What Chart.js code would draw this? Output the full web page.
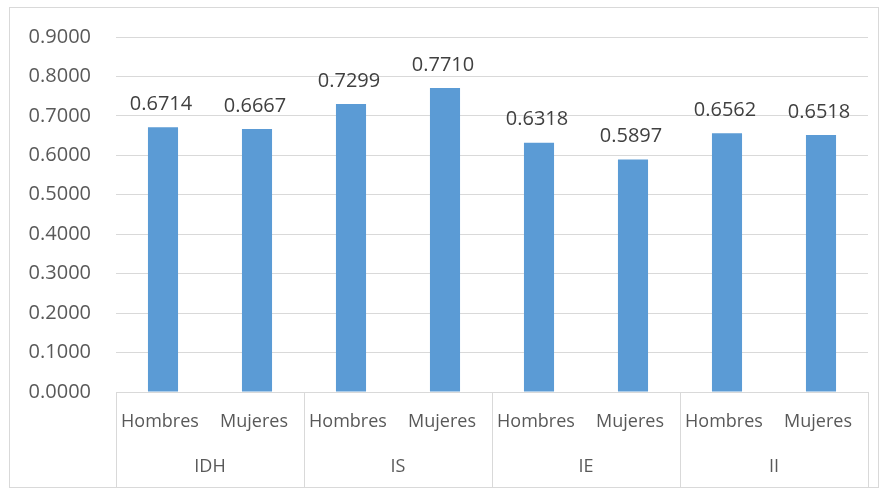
<!DOCTYPE html>
<html>
<head>
<meta charset="utf-8">
<script src="https://cdn.jsdelivr.net/npm/chart.js@4"></script>
<style>
  body { margin: 0; background: #fff; }
  #wrap { width: 886px; height: 492px; position: relative; }
</style>
</head>
<body>
<div id="wrap"><canvas id="chart" width="886" height="492"></canvas></div>
<script>
// Datos
const categorias = ['Hombres', 'Mujeres', 'Hombres', 'Mujeres', 'Hombres', 'Mujeres', 'Hombres', 'Mujeres'];
const grupos = ['IDH', 'IS', 'IE', 'II'];
const valores = [0.6714, 0.6667, 0.7299, 0.7710, 0.6318, 0.5897, 0.6562, 0.6518];

const FONT = "'Open Sans', sans-serif";
const TEXT = '#595959';

// Marco, etiquetas de datos y eje de dos niveles
const extras = {
    id: 'extras',
    beforeDraw(chart) {
        const ctx = chart.ctx;
        ctx.save();
        ctx.fillStyle = '#fff';
        ctx.fillRect(0, 0, chart.width, chart.height);
        ctx.strokeStyle = '#d9d9d9';
        ctx.lineWidth = 1;
        ctx.strokeRect(9.5, 7.5, 869, 480);
        ctx.restore();
    },
    afterDraw(chart) {
        const ctx = chart.ctx;
        const x = chart.scales.x;
        const area = chart.chartArea;
        ctx.save();

        // etiquetas encima de las barras
        ctx.font = '20px ' + FONT;
        ctx.fillStyle = '#404040';
        ctx.textAlign = 'center';
        ctx.textBaseline = 'bottom';
        chart.getDatasetMeta(0).data.forEach((bar, i) => {
            ctx.fillText(valores[i].toFixed(4), bar.x - 2, bar.y - 13);
        });

        // separadores
        const step = x.getPixelForValue(1) - x.getPixelForValue(0);
        ctx.strokeStyle = '#d9d9d9';
        ctx.lineWidth = 1;
        for (let g = 0; g <= grupos.length; g++) {
            const px = Math.round(x.getPixelForValue(g * 2) - step / 2) + 0.5;
            ctx.beginPath();
            ctx.moveTo(px, area.bottom);
            ctx.lineTo(px, 487);
            ctx.stroke();
        }

        // categorías
        ctx.font = '18px ' + FONT;
        ctx.fillStyle = TEXT;
        ctx.textBaseline = 'middle';
        categorias.forEach((c, i) => {
            ctx.fillText(c, x.getPixelForValue(i) - 3, area.bottom + 30);
        });

        // grupos
        grupos.forEach((g, i) => {
            const px = (x.getPixelForValue(i * 2) + x.getPixelForValue(i * 2 + 1)) / 2;
            ctx.fillText(g, px, area.bottom + 75);
        });
        ctx.restore();
    }
};

new Chart(document.getElementById('chart'), {
    type: 'bar',
    data: {
        labels: categorias,
        datasets: [{
            data: valores,
            backgroundColor: '#5b9bd5',
            categoryPercentage: 1,
            barPercentage: 0.32
        }]
    },
    options: {
        responsive: false,
        animation: false,
        layout: { padding: { left: 9, right: 18, top: 37, bottom: 0 } },
        plugins: {
            legend: { display: false },
            tooltip: { enabled: false }
        },
        scales: {
            x: {
                grid: { display: false },
                border: { color: '#d9d9d9' },
                ticks: { display: false },
                afterFit: s => { s.height = 100; }
            },
            y: {
                min: 0,
                max: 0.9,
                ticks: {
                    stepSize: 0.1,
                    padding: 25,
                    color: TEXT,
                    font: { family: FONT, size: 20 },
                    callback: v => v.toFixed(4)
                },
                grid: { color: '#d9d9d9', drawTicks: false },
                border: { display: false },
                afterFit: s => { s.width = 107; }
            }
        }
    },
    plugins: [extras]
});
</script>
</body>
</html>
